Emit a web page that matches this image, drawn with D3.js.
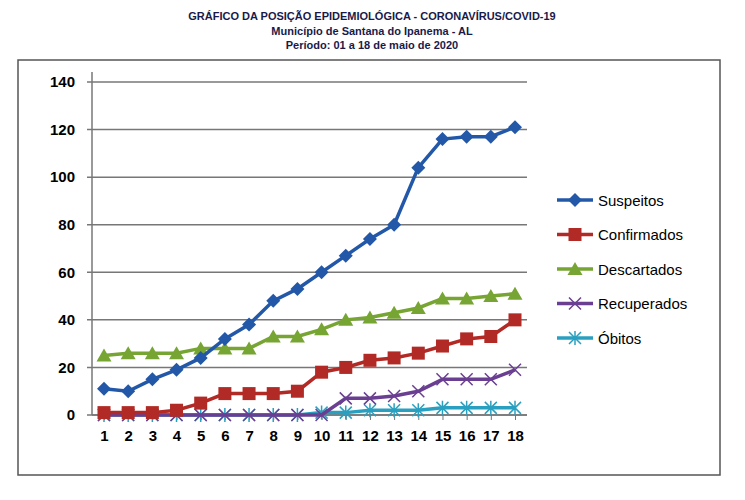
<!DOCTYPE html>
<html><head><meta charset="utf-8">
<script src="https://cdn.jsdelivr.net/npm/d3@7"></script>
<style>body{margin:0;background:#fff;font-family:Arial,"Liberation Sans",sans-serif}</style>
</head><body>
<script>
var days = d3.range(1, 19);
var yTicks = [0, 20, 40, 60, 80, 100, 120, 140];
var seriesNames = ["Suspeitos", "Confirmados", "Descartados", "Recuperados", "Óbitos"];
var suspeitos = [11,10,15,19,24,32,38,48,53,60,67,74,80,104,116,117,117,121];
var confirmados = [1,1,1,2,5,9,9,9,10,18,20,23,24,26,29,32,33,40];
var descartados = [25,26,26,26,28,28,28,33,33,36,40,41,43,45,49,49,50,51];
var recuperados = [0,0,0,0,0,0,0,0,0,0,7,7,8,10,15,15,15,19];
var obitos = [0,0,0,0,0,0,0,0,0,1,1,2,2,2,3,3,3,3];
var colors = ["#2358a8", "#b22a25", "#77a533", "#6a3f92", "#2aa0c0"];
var values = [suspeitos, confirmados, descartados, recuperados, obitos];

var svg = d3.select("body").append("svg").attr("width", 745).attr("height", 500);

var titles = ["GRÁFICO DA POSIÇÃO EPIDEMIOLÓGICA  - CORONAVÍRUS/COVID-19",
              "Município de Santana do Ipanema - AL",
              "Período: 01 a 18 de maio de 2020"];
svg.selectAll(".t").data(titles).enter().append("text")
  .attr("x", 372).attr("y", function(d, i){ return 20 + i * 14.5; })
  .attr("text-anchor", "middle").attr("font-size", 11).attr("font-weight", "bold")
  .attr("fill", "#1a1a4a").text(function(d){ return d; });

svg.append("rect").attr("x", 18).attr("y", 60).attr("width", 702).attr("height", 415)
  .attr("fill", "none").attr("stroke", "#555").attr("stroke-width", 1.5);

var x = d3.scalePoint().domain(days).range([104, 515]);
var y = d3.scaleLinear().domain([0, 140]).range([415, 82]);

var g = svg.append("g");
g.selectAll(".grid").data(yTicks).enter().append("line")
  .attr("x1", 87).attr("x2", 527).attr("y1", function(d){ return y(d); }).attr("y2", function(d){ return y(d); })
  .attr("stroke", "#777").attr("stroke-width", 1.5);
g.append("line").attr("x1", 92).attr("x2", 92).attr("y1", 72).attr("y2", 415).attr("stroke", "#777").attr("stroke-width", 1.5);

var yAxis = d3.axisLeft(y).tickValues(yTicks).tickSize(0).tickPadding(12);
var ya = svg.append("g").attr("transform", "translate(87,0)").call(yAxis);
ya.select(".domain").remove();
ya.selectAll("text").attr("font-size", 15).attr("font-weight", "bold").attr("fill", "#000").attr("font-family", "Arial");

var xAxis = d3.axisBottom(x).tickSize(5).tickPadding(10);
var xa = svg.append("g").attr("transform", "translate(0,415)").call(xAxis);
xa.select(".domain").attr("d", "M92,0H527").attr("stroke", "#777").attr("stroke-width", 1.5);
xa.selectAll("line").attr("stroke", "#777");
xa.selectAll("text").attr("font-size", 15).attr("font-weight", "bold").attr("fill", "#000").attr("font-family", "Arial");

var line = d3.line().x(function(d, i){ return x(days[i]); }).y(function(d){ return y(d); });

function marker(sel, k, c) {
  if (k === 0) sel.append("path").attr("d", "M0,-7L7,0L0,7L-7,0Z").attr("fill", c);
  else if (k === 1) sel.append("rect").attr("x", -6.5).attr("y", -6.5).attr("width", 13).attr("height", 13).attr("fill", c);
  else if (k === 2) sel.append("path").attr("d", "M0,-7L7.5,6L-7.5,6Z").attr("fill", c);
  else if (k === 3) sel.append("path").attr("d", "M-6,-6L6,6M-6,6L6,-6").attr("stroke", c).attr("stroke-width", 1.5);
  else sel.append("path").attr("d", "M-6,-6L6,6M-6,6L6,-6M0,-7V7").attr("stroke", c).attr("stroke-width", 1.5);
}

for (var k = 4; k >= 0; k--) {
  var c = colors[k];
  svg.append("path").datum(values[k]).attr("d", line).attr("fill", "none").attr("stroke", c).attr("stroke-width", 3.5);
  values[k].forEach(function(v, i){
    marker(svg.append("g").attr("transform", "translate(" + x(days[i]) + "," + y(v) + ")"), k, c);
  });
  var ly = 200 + k * 34.5;
  svg.append("line").attr("x1", 557).attr("x2", 593).attr("y1", ly).attr("y2", ly).attr("stroke", c).attr("stroke-width", 3.5);
  marker(svg.append("g").attr("transform", "translate(575," + ly + ")"), k, c);
  svg.append("text").attr("x", 598).attr("y", ly + 5.5).attr("font-size", 15).attr("font-family", "Arial").attr("fill", "#000").text(seriesNames[k]);
}
</script>
</body></html>
